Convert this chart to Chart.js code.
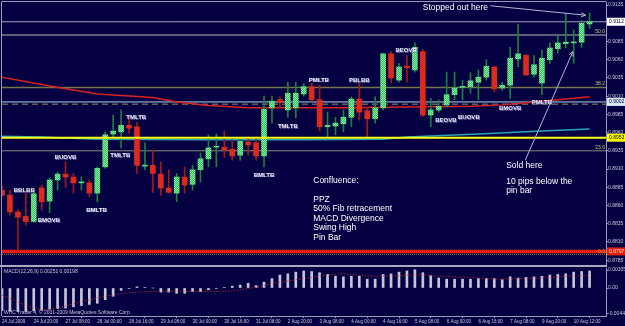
<!DOCTYPE html>
<html>
<head>
<meta charset="utf-8">
<title>H4 chart</title>
<script src="https://cdn.jsdelivr.net/npm/chart.js@4.4.1/dist/chart.umd.min.js"></script>
<style>
  body { margin: 0; background: #050041; }
  #wrap { position: relative; width: 625px; height: 326px; overflow: hidden; background: #050041; }
  canvas { position: absolute; left: 0; }
  #price { top: 0; }
  #macd { top: 265px; }
</style>
</head>
<body>
<div id="wrap">
  <canvas id="price" width="625" height="266"></canvas>
  <canvas id="macd" width="625" height="61"></canvas>
</div>
<script>
// H4 candles, 24 Jul - 10 Aug 2009
const opens = [0.8881, 0.8874, 0.8851, 0.8845, 0.8838, 0.8884, 0.8866, 0.8895, 0.8903, 0.8899,
  0.8891, 0.8891, 0.8877, 0.8913, 0.8958, 0.8961, 0.8970, 0.8968, 0.8914, 0.8915,
  0.8903, 0.8884, 0.8877, 0.8899, 0.8889, 0.8909, 0.8924, 0.8940, 0.8940, 0.8937,
  0.8929, 0.8947, 0.8946, 0.8928, 0.8994, 0.9005, 0.8991, 0.8994, 0.9013, 0.9023,
  0.9005, 0.8968, 0.8969, 0.8972, 0.8981, 0.9006, 0.8990, 0.8979, 0.8994, 0.9068,
  0.9032, 0.9051, 0.9046, 0.9071, 0.8984, 0.8991, 0.8998, 0.9012, 0.9022, 0.9023,
  0.9029, 0.9036, 0.9050, 0.9021, 0.9025, 0.9061, 0.9066, 0.9040, 0.9028, 0.9060,
  0.9075, 0.9082, 0.9083, 0.9084, 0.9109];
const highs = [0.8887, 0.8881, 0.8854, 0.8877, 0.8878, 0.8888, 0.8898, 0.8906, 0.8920, 0.8904,
  0.8899, 0.8895, 0.8913, 0.8961, 0.8984, 0.8991, 0.8980, 0.8974, 0.8946, 0.8936,
  0.8920, 0.8909, 0.8904, 0.8913, 0.8915, 0.8932, 0.8957, 0.8958, 0.8962, 0.8950,
  0.8953, 0.8954, 0.8954, 0.9010, 0.9010, 0.9009, 0.9029, 0.9029, 0.9027, 0.9028,
  0.9025, 0.8988, 0.8981, 0.8991, 0.9009, 0.9028, 0.8995, 0.9009, 0.9069, 0.9071,
  0.9055, 0.9066, 0.9083, 0.9074, 0.9007, 0.9005, 0.9043, 0.9043, 0.9032, 0.9042,
  0.9046, 0.9060, 0.9051, 0.9029, 0.9077, 0.9109, 0.9067, 0.9066, 0.9073, 0.9083,
  0.9092, 0.9123, 0.9101, 0.9114, 0.9124];
const lows = [0.8872, 0.8847, 0.8797, 0.8833, 0.8837, 0.8854, 0.8850, 0.8881, 0.8885, 0.8877,
  0.8881, 0.8872, 0.8865, 0.8911, 0.8954, 0.8939, 0.8959, 0.8904, 0.8909, 0.8878,
  0.8874, 0.8877, 0.8865, 0.8877, 0.8881, 0.8892, 0.8913, 0.8913, 0.8926, 0.8922,
  0.8922, 0.8929, 0.8922, 0.8913, 0.8973, 0.8995, 0.8981, 0.8980, 0.9010, 0.9003,
  0.8962, 0.8954, 0.8957, 0.8961, 0.8968, 0.8977, 0.8953, 0.8973, 0.8991, 0.9028,
  0.9029, 0.9029, 0.9043, 0.8982, 0.8968, 0.8988, 0.8995, 0.9005, 0.9005, 0.9014,
  0.9005, 0.9032, 0.9016, 0.9018, 0.9007, 0.9050, 0.9038, 0.9036, 0.9012, 0.9055,
  0.9069, 0.9076, 0.9055, 0.9077, 0.9103];
const closes = [0.8874, 0.8851, 0.8844, 0.8838, 0.8876, 0.8865, 0.8895, 0.8903, 0.8899, 0.8891,
  0.8892, 0.8877, 0.8911, 0.8957, 0.8962, 0.8970, 0.8966, 0.8915, 0.8915, 0.8904,
  0.8884, 0.8878, 0.8899, 0.8888, 0.8909, 0.8924, 0.8939, 0.8941, 0.8936, 0.8928,
  0.8948, 0.8943, 0.8928, 0.8992, 0.9003, 0.9001, 0.9014, 0.9014, 0.9023, 0.9005,
  0.8968, 0.8970, 0.8973, 0.8981, 0.9006, 0.8988, 0.8979, 0.8994, 0.9068, 0.9035,
  0.9050, 0.9049, 0.9077, 0.8984, 0.8991, 0.8996, 0.9012, 0.9021, 0.9023, 0.9031,
  0.9036, 0.9051, 0.9020, 0.9025, 0.9062, 0.9068, 0.9039, 0.9053, 0.9062, 0.9076,
  0.9083, 0.9084, 0.9084, 0.9110, 0.9112];

// moving averages, read at a few bars
const redMaBars = [0, 6, 12, 19, 22, 26, 31, 44, 51, 59, 63, 67, 70, 74];
const redMaValues = [0.9036, 0.9024, 0.9013, 0.9008, 0.9002, 0.8997, 0.8994, 0.8994, 0.8995, 0.8996, 0.8998, 0.9002, 0.9005, 0.9009];
const tealMaBars = [0, 5, 12, 25, 38, 48, 51, 60, 68, 74];
const tealMaValues = [0.8955, 0.8954, 0.8951, 0.8950, 0.8950, 0.8951, 0.8954, 0.8958, 0.8962, 0.8965];

// horizontal lines: bid, fib 50, fib 38.2, level, dashed level, yellow, fib 23.6, fib 0, dotted
const levelValues = [0.9112, 0.9094, 0.9022, 0.9002, 0.8999, 0.8953, 0.8935, 0.8797, 0.8793];
const fibNames = ['50.0', '38.2', '23.6', '0.0'];
const fibValues = [0.9094, 0.9022, 0.8935, 0.8797];

const priceTicks = [0.9135, 0.9110, 0.9085, 0.9060, 0.9035, 0.9010, 0.8985, 0.8960, 0.8935, 0.8910, 0.8885, 0.8860, 0.8835, 0.8810, 0.8785];
const tagValues = [0.9112, 0.9002, 0.8953, 0.8797];

const patternNames = ['BBLBB', 'BMOVB', 'BUOVB', 'TMLTB', 'TMLTB', 'BMLTB', 'BMLTB', 'TMLTB', 'PMLTB', 'PBLBB', 'BEOVB', 'BEOVB', 'BUOVB', 'BMOVB', 'PMLTB'];
const patternBars = [2.8, 5.9, 8.0, 14.9, 16.9, 11.9, 33.0, 36.0, 39.9, 45.0, 50.9, 55.9, 58.8, 64.0, 68.0];
const patternPrices = [0.8881, 0.8839, 0.8926, 0.8929, 0.8981, 0.8854, 0.8902, 0.8968, 0.9032, 0.9031, 0.9073, 0.8977, 0.8981, 0.8993, 0.9001];

const noteTexts = ['Stopped out here', 'Confluence:', 'PPZ', '50% Fib retracement', 'MACD Divergence', 'Swing High', 'Pin Bar', 'Sold here', '10 pips below the', 'pin bar'];
const noteBars = [53.0, 39.2, 39.2, 39.2, 39.2, 39.2, 39.2, 63.5, 63.5, 63.5];
const notePrices = [0.9132, 0.8894, 0.8868, 0.8855, 0.8842, 0.8829, 0.8816, 0.8914, 0.8893, 0.8881];

// arrows: [fromBar, fromPrice, toBar, toPrice]
const arrowStopped = [61.5, 0.9134, 73.5, 0.9121];
const arrowSold = [65.9, 0.8922, 71.9, 0.9071];

// MACD(12,26,9)
const macdHist = [-0.0038, -0.0039, -0.0040, -0.0040, -0.0039, -0.0038, -0.0036, -0.0035, -0.0034, -0.0032,
  -0.0030, -0.0028, -0.0026, -0.0020, -0.0014, -0.0004, -0.0001, 0.0002, 0.0001, 0.0000,
  -0.0007, -0.0007, -0.0009, -0.0009, -0.0006, -0.0006, -0.0003, -0.0001, 0.0001, 0.0003,
  0.0005, 0.0008, 0.0004, 0.0010, 0.0016, 0.0022, 0.0024, 0.0027, 0.0029, 0.0028,
  0.0026, 0.0023, 0.0020, 0.0019, 0.0020, 0.0020, 0.0015, 0.0015, 0.0023, 0.0024,
  0.0027, 0.0029, 0.0031, 0.0026, 0.0021, 0.0017, 0.0015, 0.0015, 0.0015, 0.0015,
  0.0016, 0.0016, 0.0016, 0.0014, 0.0019, 0.0017, 0.0018, 0.0019, 0.0020, 0.0022,
  0.0023, 0.0024, 0.0027, 0.0028, 0.0029];
const macdSignal = [-0.0012, -0.0018, -0.0024, -0.0030, -0.0034, -0.0037, -0.0036, -0.0034, -0.0031, -0.0027,
  -0.0023, -0.0020, -0.0017, -0.0014, -0.0012, -0.0010, -0.0008, -0.0007, -0.0006, -0.0006,
  -0.0006, -0.0006, -0.0006, -0.0006, -0.0006, -0.0006, -0.0006, -0.0006, -0.0006, -0.0005,
  -0.0003, -0.0001, 0.0001, 0.0004, 0.0007, 0.0010, 0.0012, 0.0014, 0.0016, 0.0018,
  0.0020, 0.0022, 0.0023, 0.0024, 0.0023, 0.0022, 0.0021, 0.0020, 0.0020, 0.0021,
  0.0021, 0.0022, 0.0022, 0.0022, 0.0021, 0.0020, 0.0020, 0.0019, 0.0019, 0.0018,
  0.0017, 0.0016, 0.0015, 0.0015, 0.0016, 0.0016, 0.0016, 0.0017, 0.0017, 0.0018,
  0.0019, 0.0020, 0.0021, 0.0021, 0.0022];
const macdTicks = [0.00305, 0, -0.0044];
const macdTickLabels = ['0.00305', '0.00', '-0.00440'];
const macdTitle = 'MACD(12,26,9) 0.00251 0.00198';

const timeTickBars = [0, 4, 8, 12, 16, 20, 24, 28, 32, 36, 40, 44, 48, 52, 56, 60, 64, 68, 72];
const timeTickLabels = ['24 Jul 2009', '24 Jul 20:00', '27 Jul 08:00', '28 Jul 00:00', '28 Jul 16:00', '29 Jul 08:00',
  '30 Jul 00:00', '30 Jul 16:00', '31 Jul 08:00', '2 Aug 20:00', '3 Aug 08:00', '4 Aug 00:00', '4 Aug 16:00',
  '5 Aug 08:00', '6 Aug 00:00', '6 Aug 16:00', '7 Aug 08:00', '9 Aug 20:00', '10 Aug 12:00'];

// ---------------------------------------------------------------
const FONT = 'Liberation Sans';
const AXIS_TXT = '#c8c8dc';
const FRAME = '#9a9ab6';
const xMin = 0, xMax = 76.07;

const bars = opens.map((_, i) => i);
const up = bars.map(i => closes[i] >= opens[i]);

function dither(c1, c2) {
  const p = document.createElement('canvas');
  p.width = 2; p.height = 2;
  const g = p.getContext('2d');
  g.fillStyle = c1; g.fillRect(0, 0, 2, 2);
  g.fillStyle = c2; g.fillRect(0, 0, 1, 1); g.fillRect(1, 1, 1, 1);
  return g.createPattern(p, 'repeat');
}
const bullFill = dither('#2fbf55', '#8cefa6');

const levelStyles = [
  { color: '#a4a4c4', width: 1 },
  { color: '#5e5e7c', width: 2 },
  { color: '#76764e', width: 1.5 },
  { color: '#a6d6e6', width: 1 },
  { color: '#9c8a66', width: 1, dash: [6, 4] },
  { color: '#ffff10', width: 2 },
  { color: '#8c8c78', width: 1 },
  { color: '#e2200f', width: 3.5 },
  { color: '#8c8c40', width: 1, dash: [1, 1] }
];
const tagStyles = [
  { bg: '#ffffff', fg: '#000040' },
  { bg: '#d6e8f2', fg: '#000040' },
  { bg: '#ffff00', fg: '#000000' },
  { bg: '#e2200f', fg: '#ffd0c0' }
];

const levelSets = levelValues.map((v, k) => ({
  type: 'line',
  data: [{ x: xMin, y: v }, { x: xMax, y: v }],
  borderColor: levelStyles[k].color,
  borderWidth: levelStyles[k].width,
  borderDash: levelStyles[k].dash || [],
  pointRadius: 0,
  order: k === 5 ? 0 : 5
}));

function arrow(ctx, x1, y1, x2, y2) {
  ctx.beginPath(); ctx.moveTo(x1, y1); ctx.lineTo(x2, y2); ctx.stroke();
  const a = Math.atan2(y2 - y1, x2 - x1), L = 5;
  ctx.beginPath();
  ctx.moveTo(x2 - L * Math.cos(a - 0.45), y2 - L * Math.sin(a - 0.45));
  ctx.lineTo(x2, y2);
  ctx.lineTo(x2 - L * Math.cos(a + 0.45), y2 - L * Math.sin(a + 0.45));
  ctx.stroke();
}

const priceDecor = {
  id: 'priceDecor',
  afterDatasetsDraw(chart) {
    const { ctx, chartArea: a, scales: { x, y } } = chart;
    ctx.save();
    // fib labels
    ctx.font = '5px ' + FONT;
    ctx.textAlign = 'right';
    fibNames.forEach((t, k) => {
      const py = y.getPixelForValue(fibValues[k]);
      ctx.fillStyle = t === '0.0' ? '#ffa020' : '#caca70';
      ctx.textBaseline = t === '0.0' ? 'middle' : 'bottom';
      ctx.fillText(t, a.right - 1, t === '0.0' ? py : py - 1);
    });
    // pattern labels
    ctx.font = 'bold 6px ' + FONT;
    ctx.textAlign = 'center';
    ctx.textBaseline = 'middle';
    patternNames.forEach((t, k) => {
      const px = x.getPixelForValue(patternBars[k]), py = y.getPixelForValue(patternPrices[k]);
      ctx.fillStyle = '#6a6aa8';
      ctx.fillText(t, px + 0.7, py + 0.7);
      ctx.fillStyle = '#ececf8';
      ctx.fillText(t, px, py);
    });
    // notes
    ctx.font = '8.5px ' + FONT;
    ctx.textAlign = 'left';
    ctx.fillStyle = '#ffffff';
    noteTexts.forEach((t, k) => {
      ctx.fillText(t, x.getPixelForValue(noteBars[k]), y.getPixelForValue(notePrices[k]));
    });
    // arrows
    ctx.strokeStyle = '#b4b4d8';
    ctx.lineWidth = 1;
    [arrowStopped, arrowSold].forEach(r => {
      arrow(ctx, x.getPixelForValue(r[0]), y.getPixelForValue(r[1]), x.getPixelForValue(r[2]), y.getPixelForValue(r[3]));
    });
    // frame
    ctx.strokeStyle = FRAME;
    ctx.beginPath();
    ctx.moveTo(a.left - 0.5, a.bottom); ctx.lineTo(a.left - 0.5, a.top - 0.5); ctx.lineTo(a.right, a.top - 0.5);
    ctx.stroke();
    ctx.restore();
  },
  afterDraw(chart) {
    const { ctx, chartArea: a, scales: { y } } = chart;
    ctx.save();
    ctx.font = '5px ' + FONT;
    ctx.textAlign = 'left';
    ctx.textBaseline = 'middle';
    tagValues.forEach((v, k) => {
      const py = y.getPixelForValue(v);
      ctx.fillStyle = tagStyles[k].bg;
      ctx.fillRect(a.right + 1, py - 4, 19, 8);
      ctx.fillStyle = tagStyles[k].fg;
      ctx.fillText(v.toFixed(4), a.right + 3, py);
    });
    ctx.restore();
  }
};

new Chart(document.getElementById('price'), {
  type: 'bar',
  data: {
    datasets: [
      {
        data: bars.map(i => ({ x: i, y: [opens[i], closes[i]] })),
        backgroundColor: bars.map(i => up[i] ? bullFill : '#dc2a1c'),
        barThickness: 5, minBarLength: 1, grouped: false, order: 1
      },
      {
        data: bars.map(i => ({ x: i, y: [lows[i], highs[i]] })),
        backgroundColor: bars.map(i => up[i] ? '#17823a' : '#a01a16'),
        barThickness: 1, grouped: false, order: 2
      },
      {
        type: 'line',
        data: redMaBars.map((b, k) => ({ x: b, y: redMaValues[k] })),
        borderColor: '#d82222', borderWidth: 1.5, pointRadius: 0, order: 3
      },
      {
        type: 'line',
        data: tealMaBars.map((b, k) => ({ x: b, y: tealMaValues[k] })),
        borderColor: '#2aa6b4', borderWidth: 1.5, pointRadius: 0, order: 3
      },
      ...levelSets
    ]
  },
  options: {
    responsive: false,
    animation: false,
    events: [],
    layout: { padding: { left: 2, top: 2, right: 0, bottom: 1 } },
    plugins: { legend: { display: false }, tooltip: { enabled: false } },
    scales: {
      x: { type: 'linear', min: xMin, max: xMax, offset: false, display: false },
      y: {
        position: 'right',
        min: 0.877835, max: 0.913912,
        afterBuildTicks: s => { s.ticks = priceTicks.map(v => ({ value: v })); },
        afterFit: s => { s.width = 19; s.paddingTop = 0; s.paddingBottom = 0; },
        grid: { drawOnChartArea: false, tickLength: 2, color: FRAME },
        border: { color: FRAME },
        ticks: {
          color: AXIS_TXT, padding: 0,
          font: { family: FONT, size: 5 },
          callback: v => v.toFixed(4)
        }
      }
    }
  },
  plugins: [priceDecor]
});

const macdDecor = {
  id: 'macdDecor',
  afterDraw(chart) {
    const { ctx, chartArea: a } = chart;
    ctx.save();
    ctx.fillStyle = '#a8a8c4';
    ctx.fillRect(0, 0, a.right + 1, 2);
    ctx.strokeStyle = FRAME;
    ctx.beginPath();
    ctx.moveTo(a.left - 0.5, 2); ctx.lineTo(a.left - 0.5, a.bottom);
    ctx.stroke();
    ctx.font = '5px ' + FONT;
    ctx.fillStyle = '#c4c4d8';
    ctx.textAlign = 'left';
    ctx.textBaseline = 'middle';
    ctx.fillText(macdTitle, a.left + 2, a.top + 4);
    ctx.fillText('WHC Trader 4, \u00a9 2001-2009 MetaQuotes Software Corp.', a.left + 2, a.bottom - 3);
    ctx.restore();
  }
};

new Chart(document.getElementById('macd'), {
  type: 'bar',
  data: {
    datasets: [
      {
        type: 'line',
        data: bars.map(i => ({ x: i, y: macdSignal[i] })),
        borderColor: '#d42a2a', borderWidth: 1, borderDash: [1, 2], pointRadius: 0, order: 0
      },
      {
        data: bars.map(i => ({ x: i, y: macdHist[i] })),
        backgroundColor: '#c6c6d6', barThickness: 2, grouped: false, order: 1
      }
    ]
  },
  options: {
    responsive: false,
    animation: false,
    events: [],
    layout: { padding: { left: 2, top: 3, right: 0, bottom: 0 } },
    plugins: { legend: { display: false }, tooltip: { enabled: false } },
    scales: {
      x: {
        type: 'linear', min: xMin, max: xMax, offset: false,
        afterBuildTicks: s => { s.ticks = timeTickBars.map(v => ({ value: v })); },
        afterFit: s => { s.height = 10; },
        grid: { drawOnChartArea: false, tickLength: 2, color: FRAME },
        border: { color: FRAME },
        ticks: {
          color: AXIS_TXT, padding: 1, autoSkip: false, maxRotation: 0, align: 'start',
          font: { family: FONT, size: 4.5 },
          callback: (v, idx) => timeTickLabels[idx]
        }
      },
      y: {
        position: 'right',
        min: -0.00476, max: 0.0034,
        afterBuildTicks: s => { s.ticks = macdTicks.map(v => ({ value: v })); },
        afterFit: s => { s.width = 19; s.paddingTop = 0; s.paddingBottom = 0; },
        grid: { drawOnChartArea: false, tickLength: 2, color: FRAME },
        border: { color: FRAME },
        ticks: {
          color: AXIS_TXT, padding: 0,
          font: { family: FONT, size: 5 },
          callback: (v, idx) => macdTickLabels[idx]
        }
      }
    }
  },
  plugins: [macdDecor]
});
</script>
</body>
</html>
